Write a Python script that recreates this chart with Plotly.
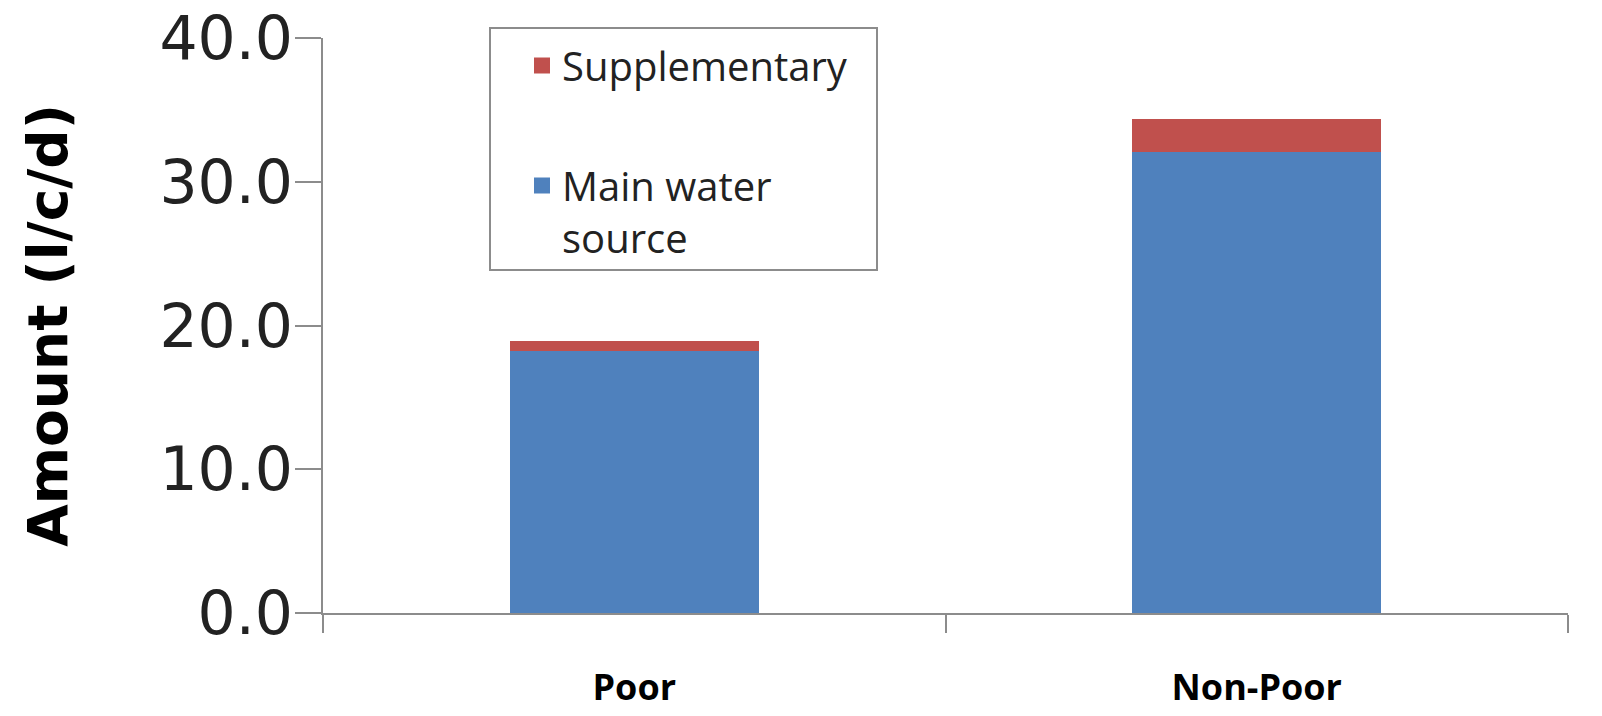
import plotly.graph_objects as go

categories = ["Poor", "Non-Poor"]
main_water = [18.2, 32.1]
supplementary = [0.7, 2.3]
y_ticks = [0, 10, 20, 30, 40]
y_tick_labels = ["0.0", "10.0", "20.0", "30.0", "40.0"]

BLUE = "#4F81BD"
RED = "#C0504D"

fig = go.Figure()
fig.add_trace(go.Bar(x=categories, y=main_water, name="Main water<br>source",
                     marker=dict(color=BLUE, line=dict(width=0)),
                     legendgroup="main", showlegend=False))
fig.add_trace(go.Bar(x=categories, y=supplementary, name="Supplementary",
                     marker=dict(color=RED, line=dict(width=0)),
                     legendgroup="supp", showlegend=False))
# legend entries (larger square swatches)
fig.add_trace(go.Scatter(x=[None], y=[None], mode="markers", name="Supplementary",
                         marker=dict(symbol="square", size=16, color=RED),
                         legendgroup="supp", legendrank=1))
fig.add_trace(go.Scatter(x=[None], y=[None], mode="markers", name="Main water<br>source",
                         marker=dict(symbol="square", size=16, color=BLUE),
                         legendgroup="main", legendrank=2))

# plot box in page pixels (body margin is removed below)
L, R, T, B = 323, 1568, 38, 613
W, H = 1602, 716

def px(x):
    return (x - L) / (R - L)

def py(y):
    return (B - y) / (B - T)

fig.add_shape(type="rect", xref="paper", yref="paper",
              x0=px(490), x1=px(877), y0=py(270), y1=py(28),
              line=dict(color="#8c8c8c", width=2), fillcolor="rgba(0,0,0,0)")

fig.update_layout(
    width=W, height=H,
    margin=dict(l=L, r=W - R, t=T, b=H - B, autoexpand=False),
    paper_bgcolor="white", plot_bgcolor="white",
    barmode="stack", bargap=0.6,
    showlegend=True,
    legend=dict(x=px(522), y=py(33), xanchor="left", yanchor="top",
                traceorder="grouped", tracegroupgap=65, valign="top",
                itemsizing="trace",
                font=dict(family="Open Sans", size=40, color="#222"),
                bgcolor="rgba(0,0,0,0)", borderwidth=0),
    xaxis=dict(showline=True, linecolor="#8c8c8c", linewidth=2, automargin=False,
               ticks="outside", tickson="boundaries", ticklen=18,
               tickcolor="#8c8c8c", tickwidth=2, ticklabelstandoff=42,
               tickfont=dict(family="Open Sans", size=36, color="black", weight="bold"),
               showgrid=False),
    yaxis=dict(range=[0, 40], tickvals=y_ticks, ticktext=y_tick_labels,
               showline=True, linecolor="#8c8c8c", linewidth=2, automargin=False,
               ticks="outside", ticklen=26, tickcolor="#8c8c8c", tickwidth=2,
               ticklabeloverflow="allow", ticklabelstandoff=-10,
               tickfont=dict(family="DejaVu Sans", size=60, color="#222"),
               showgrid=False, zeroline=False,
               title=dict(text="Amount (l/c/d)", standoff=74,
                          font=dict(family="DejaVu Sans", size=55, color="black", weight="bold"))),
)

fig.write_html("out.html", config={"displayModeBar": False},
               post_script="document.body.style.margin='0';")
